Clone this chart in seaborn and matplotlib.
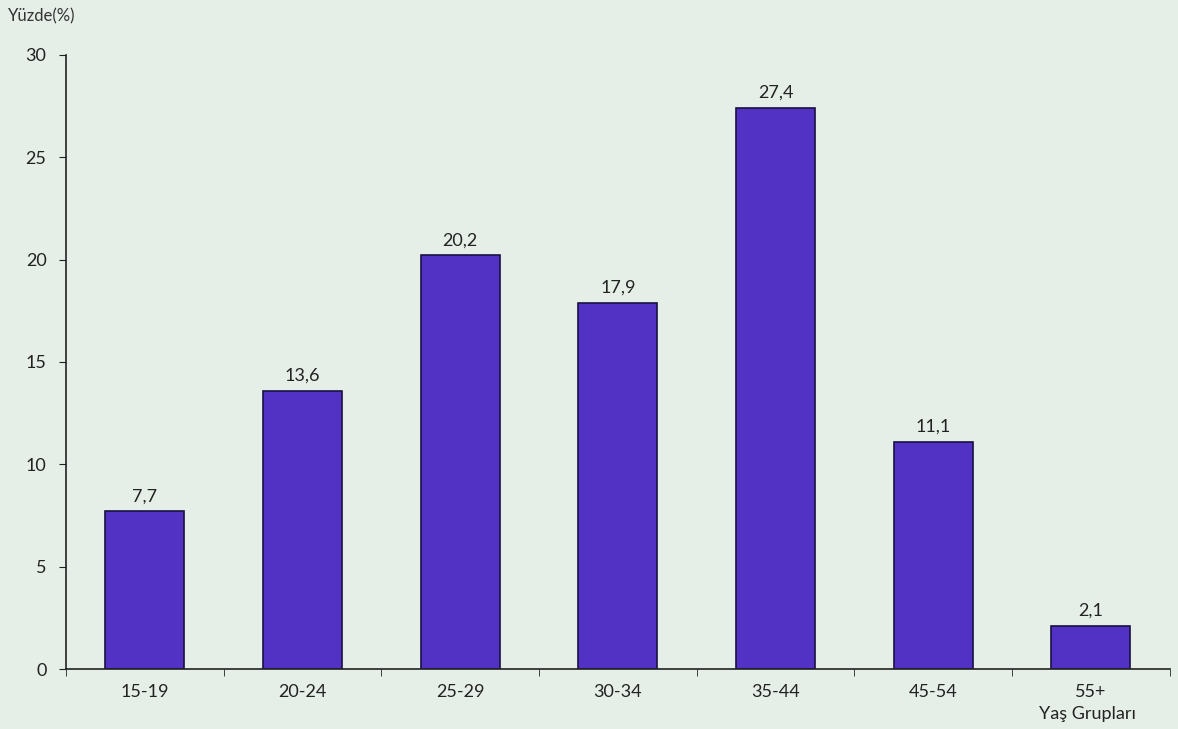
import numpy as np
import matplotlib.pyplot as plt
import seaborn as sns

sns.set_style("ticks")
plt.rcParams['font.family'] = ['Lato', 'DejaVu Sans']

groups = ['15-19', '20-24', '25-29', '30-34', '35-44', '45-54', '55+']
values = [7.7, 13.6, 20.2, 17.9, 27.4, 11.1, 2.1]
value_labels = ['7,7', '13,6', '20,2', '17,9', '27,4', '11,1', '2,1']

bg = '#e6eee8'
fig = plt.figure(figsize=(11.78, 7.29), dpi=100, facecolor=bg)
ax = fig.add_axes([0.056, 0.082, 0.937, 0.843])
ax.set_facecolor(bg)

sns.barplot(x=groups, y=values, color='#5232c4', saturation=1,
            width=0.5, edgecolor='#1a1040', linewidth=1.2, ax=ax)

for i, (v, lab) in enumerate(zip(values, value_labels)):
    ax.text(i, v + 0.35, lab, ha='center', va='bottom', fontsize=13, color='#222222')

ax.set_xlim(-0.5, 6.5)
ax.set_ylim(0, 30)
ax.set_yticks([0, 5, 10, 15, 20, 25, 30])
ax.set_xticks(np.arange(-0.5, 6.6, 1), minor=True)
ax.tick_params(axis='x', which='major', length=0, pad=11, labelsize=13, colors='#222222')
ax.tick_params(axis='x', which='minor', length=5, direction='out', color='#222222')
ax.tick_params(axis='y', length=5, direction='out', pad=9, labelsize=13, colors='#222222')
sns.despine(ax=ax)
for s in ['left', 'bottom']:
    ax.spines[s].set_color('#222222')
    ax.spines[s].set_linewidth(1.2)
ax.set_xlabel('')
ax.set_ylabel('')

fig.text(0.007, 0.978, 'Yüzde(%)', ha='left', va='center', fontsize=12, color='#333333')
fig.text(0.923, 0.021, 'Yaş Grupları', ha='center', va='center', fontsize=13, color='#222222')

plt.savefig('out.png', dpi=100, facecolor=bg)
